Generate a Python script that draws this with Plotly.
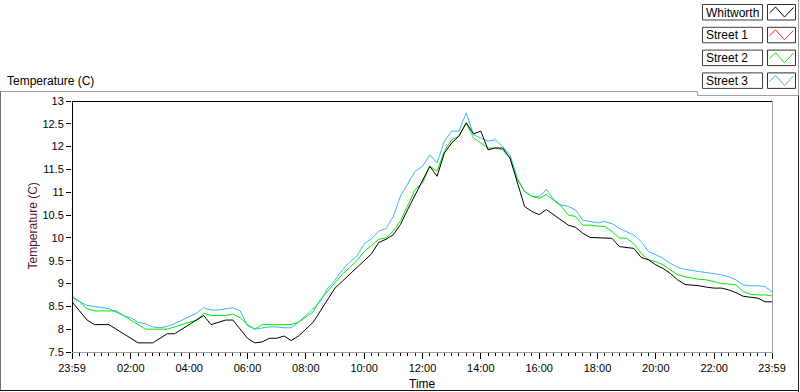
import plotly.graph_objects as go

# ---------------- data (minutes since midnight; -1 == 23:59 previous day) ----------------
times = [-1] + list(range(15, 1440, 15)) + [1439]

whitworth = [8.6, 8.4, 8.2, 8.1, 8.1, 8.1, 8.0, 7.9, 7.8, 7.7, 7.7, 7.7, 7.8, 7.9, 7.9, 8.0,
             8.1, 8.2, 8.3, 8.1, 8.15, 8.2, 8.2, 8.0, 7.8, 7.7, 7.72, 7.8, 7.8, 7.85, 7.75, 7.85,
             8.0, 8.15, 8.4, 8.65, 8.9, 9.05, 9.2, 9.35, 9.5, 9.65, 9.9, 9.97, 10.07, 10.3, 10.63,
             10.95, 11.28, 11.57, 11.35, 11.86, 12.08, 12.23, 12.52, 12.28, 12.34, 11.93, 11.97,
             11.97, 11.75, 11.24, 10.69, 10.58, 10.51, 10.62, 10.51, 10.39, 10.28, 10.23, 10.1,
             10.01, 10.0, 10.0, 9.99, 9.81, 9.79, 9.77, 9.57, 9.52, 9.41, 9.33, 9.22, 9.08, 8.98,
             8.97, 8.95, 8.92, 8.9, 8.9, 8.86, 8.8, 8.72, 8.7, 8.68, 8.6, 8.6]

street1 = []  # no visible data in the reference

street2 = [8.7, 8.6, 8.45, 8.4, 8.4, 8.4, 8.4, 8.3, 8.2, 8.1, 8.0, 8.0, 8.0, 8.0, 8.05, 8.1,
           8.15, 8.2, 8.35, 8.3, 8.3, 8.3, 8.33, 8.25, 8.1, 8.0, 8.1, 8.1, 8.1, 8.1, 8.1, 8.15,
           8.27, 8.38, 8.65, 8.83, 9.0, 9.2, 9.35, 9.5, 9.7, 9.83, 9.97, 10.0, 10.15, 10.38, 10.73,
           11.06, 11.2, 11.57, 11.46, 11.9, 12.15, 12.23, 12.52, 12.19, 12.08, 11.97, 11.97,
           11.93, 11.75, 11.28, 11.02, 10.91, 10.87, 10.95, 10.82, 10.7, 10.5, 10.47, 10.28,
           10.28, 10.26, 10.25, 10.14, 10.0, 9.99, 9.87, 9.66, 9.52, 9.48, 9.41, 9.3, 9.19, 9.15,
           9.12, 9.09, 9.08, 9.04, 9.0, 8.99, 8.97, 8.82, 8.77, 8.75, 8.75, 8.73]

street3 = [8.73, 8.6, 8.52, 8.5, 8.48, 8.45, 8.37, 8.3, 8.25, 8.15, 8.12, 8.05, 8.03, 8.06, 8.12,
           8.2, 8.28, 8.35, 8.47, 8.42, 8.42, 8.45, 8.47, 8.4, 8.08, 8.0, 8.03, 8.05, 8.05, 8.03,
           8.03, 8.15, 8.3, 8.45, 8.6, 8.9, 9.07, 9.3, 9.47, 9.6, 9.87, 9.98, 10.15, 10.2, 10.47,
           10.92, 11.2, 11.46, 11.57, 11.82, 11.64, 12.12, 12.34, 12.34, 12.74, 12.26, 12.19,
           12.12, 12.15, 12.0, 11.82, 11.31, 11.02, 10.91, 10.91, 11.06, 10.84, 10.72, 10.69,
           10.61, 10.39, 10.36, 10.33, 10.36, 10.31, 10.21, 10.14, 10.06, 9.92, 9.7, 9.63, 9.55,
           9.44, 9.36, 9.31, 9.28, 9.26, 9.24, 9.22, 9.19, 9.15, 9.08, 8.97, 8.95, 8.95, 8.93, 8.82]

series_names = ["Whitworth", "Street 1", "Street 2", "Street 3"]
series_colors = ["#000000", "#ff2020", "#00ee00", "#3cb4f4"]
series_values = [whitworth, street1, street2, street3]

x_tick_vals = [-1, 120, 240, 360, 480, 600, 720, 840, 960, 1080, 1200, 1320, 1439]
x_tick_text = ["23:59", "02:00", "04:00", "06:00", "08:00", "10:00", "12:00", "14:00",
               "16:00", "18:00", "20:00", "22:00", "23:59"]
y_tick_vals = [7.5, 8, 8.5, 9, 9.5, 10, 10.5, 11, 11.5, 12, 12.5, 13]
y_tick_text = ["7.5", "8", "8.5", "9", "9.5", "10", "10.5", "11", "11.5", "12", "12.5", "13"]

# ---------------- layout helpers (pixel -> paper) ----------------
W, H = 800, 392
L, R, T, B = 72, 28, 101, 40
PW, PH = W - L - R, H - T - B
FONT = "Liberation Sans, Arial, sans-serif"


def px(x):
    return (x - L) / PW


def py(y):
    return (H - B - y) / PH


fig = go.Figure()

# draw order: Street 3 under, then Street 2, Street 1, Whitworth on top
for idx in [3, 2, 1, 0]:
    vals = series_values[idx]
    fig.add_trace(go.Scatter(
        x=times[:len(vals)], y=vals, mode="lines", name=series_names[idx],
        line=dict(color=series_colors[idx], width=1), showlegend=False,
        hoverinfo="skip"))

shapes = []


def hline(x0, x1, y, color, w=1):
    shapes.append(dict(type="line", xref="paper", yref="paper",
                       x0=px(x0), x1=px(x1), y0=py(y), y1=py(y),
                       line=dict(color=color, width=w)))


def vline(x, y0, y1, color, w=1):
    shapes.append(dict(type="line", xref="paper", yref="paper",
                       x0=px(x), x1=px(x), y0=py(y0), y1=py(y1),
                       line=dict(color=color, width=w)))


# outer panel frame
hline(0, 697.5, 91.5, "#a0a0a0")
vline(697.5, 91.5, 95.5, "#a0a0a0")
hline(697.5, 799, 95.5, "#a0a0a0")
vline(798.5, 0, 95.5, "#a0a0a0")
vline(798.5, 95.5, 392, "#202020")
vline(0.5, 91.5, 391, "#707070")
hline(0, 799, 390.5, "#101010")

# plot frame (sunken look)
hline(72, 772.5, 101.5, "#000000")
vline(72.5, 101, 352.5, "#000000")
vline(772.5, 101, 352.5, "#a0a0a0")
hline(72, 772.5, 352.5, "#a0a0a0")

annotations = []

# legend panel
for i, name in enumerate(series_names):
    top = 4.5 + i * 22.8
    bot = top + 15.5
    shapes.append(dict(type="rect", xref="paper", yref="paper",
                       x0=px(702.5), x1=px(762.5), y0=py(bot), y1=py(top),
                       line=dict(color="#404040", width=1), fillcolor="white"))
    shapes.append(dict(type="rect", xref="paper", yref="paper",
                       x0=px(767.5), x1=px(795.5), y0=py(bot), y1=py(top),
                       line=dict(color="#303030", width=1), fillcolor="white"))
    pts = [(769.5, top + 8.5), (775.5, top + 2.5), (784.5, top + 12.5), (793.5, top + 3)]
    path = "M " + " L ".join(f"{px(a):.5f},{py(b):.5f}" for a, b in pts)
    shapes.append(dict(type="path", xref="paper", yref="paper", path=path,
                       line=dict(color=series_colors[i], width=1)))
    annotations.append(dict(xref="paper", yref="paper", x=px(704), y=py(top + 8),
                            xanchor="left", yanchor="middle", showarrow=False,
                            text=name, font=dict(family=FONT, size=12, color="#000000")))

# texts
annotations.append(dict(xref="paper", yref="paper", x=px(5), y=py(81),
                        xanchor="left", yanchor="middle", showarrow=False,
                        text="Temperature (C)", font=dict(family=FONT, size=12, color="#000000")))
annotations.append(dict(xref="paper", yref="paper", x=px(32), y=py(226.5),
                        xanchor="center", yanchor="middle", showarrow=False, textangle=-90,
                        text="Temperature (C)", font=dict(family=FONT, size=12, color="#5a1432")))
annotations.append(dict(xref="paper", yref="paper", x=px(422), y=py(384),
                        xanchor="center", yanchor="middle", showarrow=False,
                        text="Time", font=dict(family=FONT, size=12, color="#000000")))

fig.update_layout(
    width=W, height=H,
    margin=dict(l=L, r=R, t=T, b=B, pad=0),
    paper_bgcolor="white", plot_bgcolor="white",
    showlegend=False,
    shapes=shapes, annotations=annotations,
    xaxis=dict(range=[-1, 1439], tickmode="array", tickvals=x_tick_vals, ticktext=x_tick_text,
               ticks="outside", ticklen=6, tickcolor="#000000", tickwidth=1,
               tickfont=dict(family=FONT, size=11, color="#000000"),
               minor=dict(ticks="outside", ticklen=3, tick0=0, dtick=15, tickcolor="#000000",
                          tickwidth=1, showgrid=False),
               showgrid=False, zeroline=False, showline=False, fixedrange=True),
    yaxis=dict(range=[7.5, 13], tickmode="array", tickvals=y_tick_vals, ticktext=y_tick_text,
               ticks="outside", ticklen=5, tickcolor="#000000", tickwidth=1,
               tickfont=dict(family=FONT, size=11, color="#000000"),
               showgrid=False, zeroline=False, showline=False, fixedrange=True),
)

fig.write_html(
    "out.html",
    config={"displayModeBar": False},
    post_script="document.body.style.margin='0px';document.body.style.overflow='hidden';",
)
